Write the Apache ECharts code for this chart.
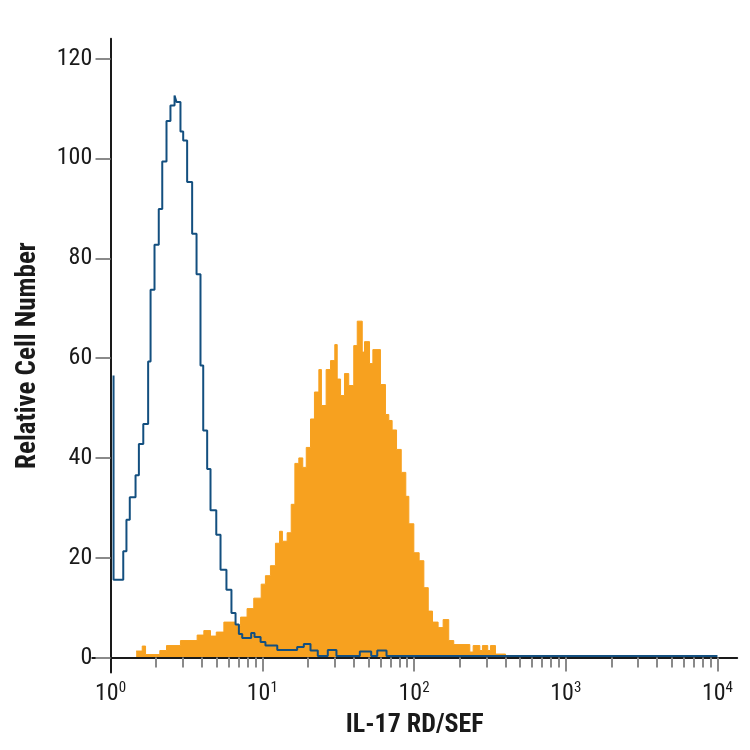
<!DOCTYPE html>
<html>
<head>
<meta charset="utf-8">
<script src="https://cdn.jsdelivr.net/npm/echarts@6/dist/echarts.min.js"></script>
<style>
  html, body { margin: 0; padding: 0; background: #fff; }
  #chart { width: 750px; height: 750px; }
</style>
</head>
<body>
<div id="chart"></div>
<script>
// x positions are log10 of the fluorescence (decades), each pair = left edge of a histogram step and its count
const isotypeEdges = [0.02, 0.02, 0.084, 0.105, 0.127, 0.165, 0.187, 0.216, 0.248, 0.264, 0.290, 0.318, 0.341, 0.369, 0.395, 0.422, 0.435, 0.461, 0.479, 0.505, 0.538, 0.567, 0.593, 0.611, 0.637, 0.659, 0.697, 0.725, 0.764, 0.797, 0.824, 0.846, 0.868, 0.927, 0.949, 0.989, 1.021, 1.099, 1.230, 1.274, 1.318, 1.366, 1.432, 1.489, 1.643, 1.718, 1.758, 1.819, 4.0];
const isotypeCounts = [56.5, 15.6, 21.3, 27.6, 32.1, 36.5, 42.8, 46.8, 59.3, 73.7, 82.7, 89.9, 99.4, 107.5, 110.6, 112.6, 111.3, 105.4, 103.6, 95.3, 84.9, 76.8, 58.5, 45.5, 37.8, 29.5, 24.6, 17.6, 13.6, 8.9, 6.6, 4.7, 3.9, 4.9, 4.1, 3.1, 2.4, 1.5, 2.1, 2.7, 1.4, 0.3, 1.5, 0.3, 1.2, 0.3, 1.4, 0.3, 0.3];

const stainedEdges = [0.169, 0.209, 0.231, 0.325, 0.369, 0.461, 0.571, 0.615, 0.659, 0.697, 0.747, 0.824, 0.857, 0.900, 0.944, 0.993, 1.021, 1.054, 1.087, 1.114, 1.133, 1.164, 1.191, 1.215, 1.241, 1.267, 1.290, 1.318, 1.344, 1.373, 1.390, 1.421, 1.450, 1.478, 1.494, 1.516, 1.542, 1.570, 1.603, 1.626, 1.659, 1.674, 1.707, 1.729, 1.779, 1.812, 1.834, 1.856, 1.885, 1.916, 1.946, 1.966, 1.999, 2.034, 2.065, 2.094, 2.122, 2.159, 2.192, 2.229, 2.262, 2.368, 2.390, 2.434, 2.451, 2.486, 2.504, 2.537, 2.603];
const stainedCounts = [1.3, 2.3, 0.6, 1.4, 2.4, 3.4, 4.5, 5.4, 4.3, 5.1, 7.1, 6.4, 8.1, 9.8, 11.9, 14.7, 16.4, 18.4, 22.9, 25.3, 23.3, 25.0, 30.7, 38.9, 40.0, 38.1, 42.1, 47.8, 53.2, 57.7, 50.5, 57.7, 59.5, 62.7, 55.8, 52.5, 56.9, 54.5, 62.5, 67.4, 61.2, 63.3, 58.9, 61.7, 54.7, 48.7, 47.5, 45.6, 41.7, 37.1, 32.3, 26.8, 21.0, 19.4, 14.0, 9.3, 7.1, 6.0, 7.6, 3.4, 2.6, 1.1, 2.4, 1.4, 2.4, 1.4, 2.4, 0.7, 0];

const decadeTicks = [0, 1, 2, 3, 4];
const yTicks = [0, 20, 40, 60, 80, 100, 120];

const FONT = '"Roboto Condensed", "Liberation Sans Narrow", "DejaVu Sans Condensed", "DejaVu Sans", sans-serif';

// minor ticks at 2..9 within every decade
const minorTicks = [];
for (let d = 0; d < 4; d++) {
  for (let k = 2; k <= 9; k++) minorTicks.push(d + Math.log10(k));
}

const X_MIN = -0.12, X_MAX = 4.13, Y_MIN = -3, Y_MAX = 124;

const chart = echarts.init(document.getElementById('chart'));
chart.setOption({
  animation: false,
  backgroundColor: '#fff',
  grid: { left: 92.3, right: 12.8, top: 38.7, bottom: 77.5, containLabel: false, outerBoundsMode: 'none' },
  xAxis: [
    {
      type: 'value',
      min: X_MIN,
      max: X_MAX,
      z: 3,
      name: 'IL-17 RD/SEF',
      nameLocation: 'middle',
      nameGap: 40,
      nameMoveOverlap: false,
      nameTextStyle: { fontFamily: FONT, fontSize: 26, fontWeight: 'bold', color: '#1a1a1a', verticalAlign: 'top' },
      axisLine: { onZero: true, onZeroAxisIndex: 0, lineStyle: { color: '#1a1a1a', width: 2 } },
      axisTick: { customValues: [1, 2, 3, 4], length: 14, lineStyle: { color: '#8a8a8a', width: 2 } },
      axisLabel: {
        customValues: decadeTicks,
        margin: 8,
        formatter: function (v) { return '{b|10}{s|' + Math.round(v) + '}'; },
        rich: {
          b: { fontFamily: FONT, fontSize: 24, color: '#1a1a1a' },
          s: { fontFamily: FONT, fontSize: 15, color: '#1a1a1a', verticalAlign: 'top', padding: [0, 0, 12, 0] }
        }
      },
      splitLine: { show: false }
    },
    {
      type: 'value',
      min: X_MIN,
      max: X_MAX,
      z: 3,
      position: 'bottom',
      axisLine: { show: false, onZero: true, onZeroAxisIndex: 1 },
      axisTick: { customValues: minorTicks, length: 10, lineStyle: { color: '#8a8a8a', width: 2 } },
      axisLabel: { show: false },
      splitLine: { show: false }
    }
  ],
  yAxis: [
    {
      type: 'value',
      min: Y_MIN,
      max: Y_MAX,
      z: 3,
      name: 'Relative Cell Number',
      nameLocation: 'middle',
      nameGap: 51,
      nameMoveOverlap: false,
      nameTextStyle: { fontFamily: FONT, fontSize: 27, fontWeight: 'bold', color: '#1a1a1a' },
      axisLine: { show: true, onZero: true, lineStyle: { color: '#1a1a1a', width: 2 } },
      axisTick: { show: true, customValues: yTicks, length: 15, lineStyle: { color: '#8a8a8a', width: 2 } },
      axisLabel: { customValues: yTicks, margin: 0, fontFamily: FONT, fontSize: 24, color: '#1a1a1a' },
      splitLine: { show: false }
    },
    {
      type: 'value',
      min: Y_MIN,
      max: Y_MAX,
      position: 'right',
      axisLine: { show: false },
      axisTick: { show: false },
      axisLabel: { show: false },
      splitLine: { show: false }
    }
  ],
  series: [
    {
      type: 'line',
      step: 'end',
      symbol: 'none',
      data: stainedEdges.map(function (x, i) { return [x, stainedCounts[i]]; }),
      lineStyle: { color: '#f7a11f', width: 1 },
      areaStyle: { color: '#f7a11f', opacity: 1 },
      z: 2
    },
    {
      type: 'line',
      step: 'end',
      symbol: 'none',
      data: isotypeEdges.map(function (x, i) { return [x, isotypeCounts[i]]; }),
      lineStyle: { color: '#134f7f', width: 2 },
      z: 4
    }
  ]
});
</script>
</body>
</html>
